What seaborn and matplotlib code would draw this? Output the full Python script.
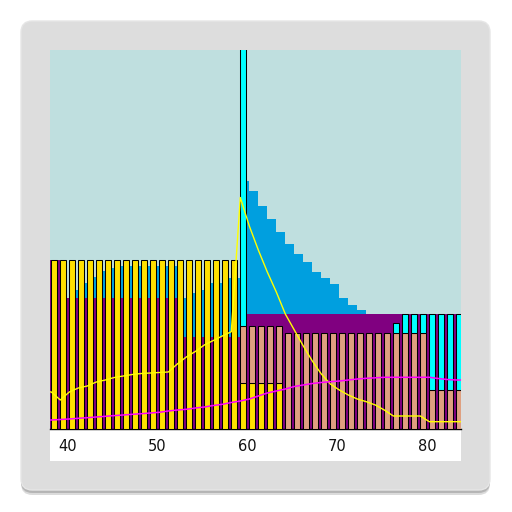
import numpy as np
import matplotlib
matplotlib.use("Agg")
import matplotlib.pyplot as plt
from matplotlib.patches import FancyBboxPatch, Rectangle
import seaborn as sns

# ---------------- data ----------------
# stepped background areas, one value per yearly interval (37..83)
area_years = list(range(37, 84))
purple_area = [169, 169,
               131, 131, 131, 131, 131, 131, 131, 131, 131, 131, 131, 131, 131,
               92, 92, 92, 92, 92, 92, 92,
               115, 115, 115, 115, 115, 115, 115, 115, 115, 115, 115, 115, 115,
               115, 115, 115, 115, 115, 115, 115, 115, 115, 115, 115, 115]
blue_area_top = [169, 169, 131, 139, 146, 152, 158, 161,
                 163, 163, 163, 163, 163, 163, 163,
                 131, 136, 139, 146, 146, 151, 151,
                 248, 238, 223, 210, 197, 185, 175, 167, 157, 151, 145, 131, 124, 119,
                 115, 115, 115, 115, 115, 115, 115, 115, 115, 115, 115]

# stacked bars, one per year 38..83
bar_years = list(range(38, 84))
bar_yellow = [169, 169, 169, 169, 169, 169, 169, 169, 169, 169, 169,
              169, 169, 169, 169, 169, 169, 169, 169, 169, 169,
              46, 46, 46, 46, 46,
              0, 0, 0, 0, 0, 0, 0, 0, 0, 0, 0, 0, 0, 0, 0, 0, 0, 0, 0, 0]
bar_salmon = [0, 0, 0, 0, 0, 0, 0, 0, 0, 0, 0, 0, 0, 0, 0, 0, 0, 0, 0, 0, 0,
              57, 57, 57, 57, 57,
              96, 96, 96, 96, 96, 96, 96, 96, 96, 96, 96, 96, 96, 96, 96, 96,
              39, 39, 39, 39]
bar_cyan = [0, 0, 0, 0, 0, 0, 0, 0, 0, 0, 0, 0, 0, 0, 0, 0, 0, 0, 0, 0, 0,
            300, 0, 0, 0, 0,
            0, 0, 0, 0, 0, 0, 0, 0, 0, 0, 0, 0, 10, 19, 19, 19,
            76, 76, 76, 76]

# lines, one value per year 37..84
line_years = list(range(37, 85))
yellow_line = [38, 37, 29, 37, 41, 43, 47, 49, 51.5, 53, 54.5, 55.5, 56, 56.5, 57,
               65, 72, 77.5, 84, 88.5, 93, 97.3,
               231.5, 203, 179, 157, 137, 115, 99, 83, 68, 55, 45, 39, 34, 30, 27.3,
               24, 19, 13, 13, 13, 13, 7.3, 7.3, 7.3, 7.3, 7.3]
magenta_line = [9, 9, 9.5, 10, 10.7, 11.3, 12, 12.7, 13.4, 14, 14.7, 15.3, 16, 16.7,
                18, 19, 19.7, 21, 22, 23.5, 24.7, 26.5, 28,
                30, 33, 36, 38, 40, 42.5, 44, 45.5, 46.5, 47.3, 48, 49, 50, 50.7,
                51.2, 51.7, 51.7, 51.7, 51.7, 51.7, 51.7, 50.5, 49.5, 49, 49]

tick_values = [40, 50, 60, 70, 80]
tick_labels = ["40", "50", "60", "70", "80"]

# ---------------- style ----------------
BG = "#BFDFDF"
BLUE = "#009FDF"
PURPLE = "#800080"
YELLOW = "#FFE000"
SALMON = "#DFA080"
CYAN = "#00FFFF"
OFFSET = 0.2       # bars start a little right of the year mark
BAR_W = 0.6

sns.set_style("white")
plt.rcParams["font.family"] = ["DejaVu Sans"]

fig = plt.figure(figsize=(5.12, 5.12), dpi=100)
fig.patch.set_facecolor("white")

# card with shadow
for dy, col, a in [(5, "#9a9a9a", 0.35), (3, "#8a8a8a", 0.45), (1.5, "#b0b0b0", 0.6)]:
    fig.patches.append(FancyBboxPatch((21 / 512, (22 - dy) / 512), 469 / 512, 469 / 512,
                                      boxstyle="round,pad=0,rounding_size=0.022",
                                      transform=fig.transFigure, facecolor=col,
                                      edgecolor="none", alpha=a, zorder=0))
fig.patches.append(FancyBboxPatch((21 / 512, 22 / 512), 469 / 512, 469 / 512,
                                  boxstyle="round,pad=0,rounding_size=0.022",
                                  transform=fig.transFigure, facecolor="#DDDDDD",
                                  edgecolor="#E6E6E6", linewidth=1.0, zorder=1))
# white label strip
fig.patches.append(Rectangle((50 / 512, 51 / 512), 411 / 512, 33 / 512,
                             transform=fig.transFigure, facecolor="white",
                             edgecolor="none", zorder=2))

ax = fig.add_axes([50 / 512, 83 / 512, 411 / 512, 379 / 512])
ax.set_zorder(3)
ax.set_facecolor(BG)

edges = np.array(area_years + [area_years[-1] + 1], dtype=float) + OFFSET
ax.stairs(blue_area_top, edges, baseline=0, fill=True, color=BLUE, zorder=1)
ax.stairs(purple_area, edges, baseline=0, fill=True, color=PURPLE, zorder=2)

bx = np.array(bar_years, dtype=float) + OFFSET
yel = np.array(bar_yellow, dtype=float)
sal = np.array(bar_salmon, dtype=float)
cya = np.array(bar_cyan, dtype=float)
for heights, bottoms, col in [(yel, np.zeros_like(yel), YELLOW),
                              (sal, yel, SALMON),
                              (cya, yel + sal, CYAN)]:
    m = heights > 0
    ax.bar(bx[m], heights[m], bottom=bottoms[m], width=BAR_W, align="edge",
           color=col, edgecolor="black", linewidth=0.75, zorder=3)

lx = np.array(line_years, dtype=float) + OFFSET
sns.lineplot(x=lx, y=yellow_line, color="#FFFF00", linewidth=1.0, ax=ax, zorder=5)
sns.lineplot(x=lx, y=magenta_line, color="#FF00FF", linewidth=1.1, ax=ax, zorder=5)

ax.set_xlim(38.056, 83.72)
ax.set_ylim(0, 379)
ax.set_yticks([])
ax.set_xticks(tick_values)
ax.set_xticklabels(tick_labels, fontsize=10.5, color="#111111")
ax.tick_params(axis="x", length=0, pad=7)
ax.set_xlabel("")
ax.set_ylabel("")
for s in ["top", "left", "right"]:
    ax.spines[s].set_visible(False)
ax.spines["bottom"].set_color("black")
ax.spines["bottom"].set_linewidth(1.0)

fig.savefig("out.png", dpi=100, facecolor="white")
